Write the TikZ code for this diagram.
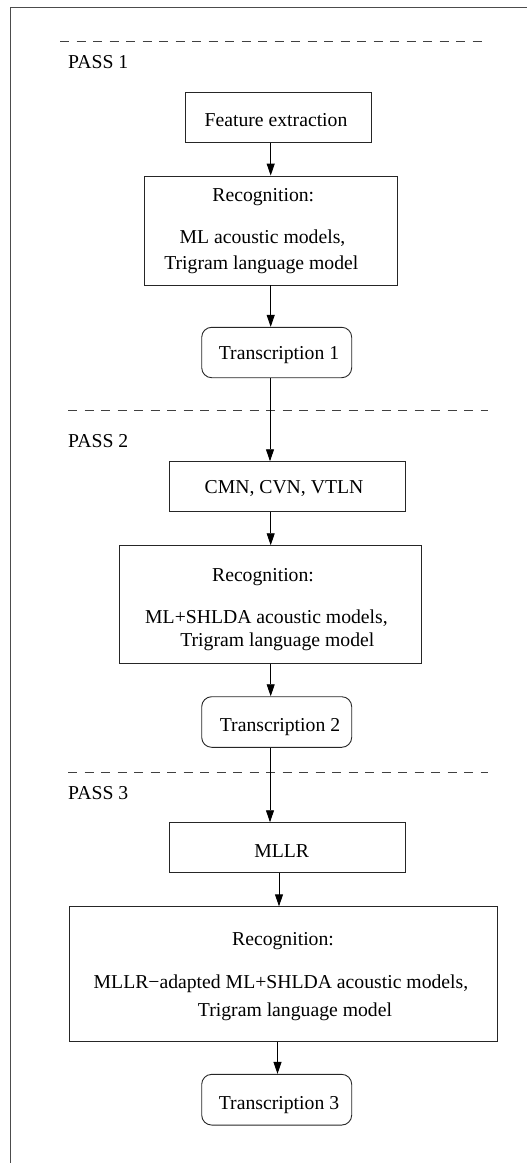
\documentclass[tikz,border=0pt]{standalone}
\usepackage{fontspec}
\setmainfont{Liberation Serif}
\usetikzlibrary{arrows.meta}
\begin{document}
\begin{tikzpicture}[x=1pt,y=-1pt,
  box/.style={draw=black!85, line width=0.9pt, inner sep=0pt},
  rbox/.style={box, rounded corners=10pt},
  txt/.style={inner sep=0pt, anchor=base, font=\fontsize{19.7}{23}\selectfont},
  lbl/.style={txt, anchor=base west},
  flow/.style={-{Triangle[length=12pt,width=8pt]}, line width=0.9pt},
  sep/.style={dash pattern=on 9pt off 7.5pt, draw=black!75, line width=0.9pt}]
\useasboundingbox (0,0) rectangle (527,1163);
% outer frame (left and top edges)
\coordinate (fbl) at (10,1163);
\coordinate (ftl) at (10,7);
\coordinate (ftr) at (527,7);
\draw[black!70, line width=1pt] (fbl) -- (ftl) -- (ftr);

% pass separators
\coordinate (s1a) at (60,41.3);  \coordinate (s1b) at (483,41.3);
\coordinate (s2a) at (68,410.7); \coordinate (s2b) at (488,410.7);
\coordinate (s3a) at (68,772);   \coordinate (s3b) at (488,772);
\draw[sep] (s1a) -- (s1b);
\draw[sep] (s2a) -- (s2b);
\draw[sep] (s3a) -- (s3b);
\node[lbl] (p1) at (68,68.5) {PASS 1};
\node[lbl] (p2) at (68,447.8) {PASS 2};
\node[lbl] (p3) at (68,799.5) {PASS 3};

% boxes
\node[box, minimum width=185.3pt, minimum height=50pt] (fe) at (278.4,117.3) {};
\node[box, minimum width=253pt, minimum height=109pt] (r1) at (270.5,230.5) {};
\node[rbox, minimum width=150pt, minimum height=50.4pt] (t1) at (276.7,352.5) {};
\node[box, minimum width=235.7pt, minimum height=50pt] (cmn) at (287.2,486.7) {};
\node[box, minimum width=302pt, minimum height=117.6pt] (r2) at (270,604.5) {};
\node[rbox, minimum width=150pt, minimum height=50.6pt] (t2) at (276.7,722) {};
\node[box, minimum width=236.4pt, minimum height=50pt] (mllr) at (287.5,847.7) {};
\node[box, minimum width=428.3pt, minimum height=134.3pt] (r3) at (283.2,973.9) {};
\node[rbox, minimum width=150pt, minimum height=50.7pt] (t3) at (276.7,1099.7) {};

% box texts
\node[txt] (fet) at (276,126.5) {Feature extraction};
\node[txt] (r1a) at (263.3,201.5) {Recognition:};
\node[txt] (r1b) at (262.5,243.2) {ML acoustic models,};
\node[txt] (r1c) at (261.3,269.2) {Trigram language model};
\node[txt] (t1t) at (279,359.8) {Transcription 1};
\node[txt] (cmnt) at (284,493.5) {CMN, CVN, VTLN};
\node[txt] (r2a) at (263,581.5) {Recognition:};
\node[lbl] (r2b) at (145,623.2) {ML+SHLDA acoustic models,};
\node[txt] (r2c) at (277.3,646.5) {Trigram language model};
\node[txt] (t2t) at (280,731.5) {Transcription 2};
\node[txt] (mllrt) at (281.7,857.2) {MLLR};
\node[txt] (r3a) at (283,945) {Recognition:};
\node[txt] (r3b) at (281,988.2) {MLLR−adapted ML+SHLDA acoustic models,};
\node[txt] (r3c) at (295,1016.5) {Trigram language model};
\node[txt] (t3t) at (279,1109.2) {Transcription 3};

% connector columns
\coordinate (c1) at (270.7,0);
\coordinate (c2) at (270,0);
\coordinate (c3) at (279,0);
\coordinate (c4) at (277.5,0);
\draw[flow] (fe.south -| c1) -- (r1.north -| c1);
\draw[flow] (r1.south -| c1) -- (t1.north -| c1);
\draw[flow] (t1.south -| c2) -- (cmn.north -| c2);
\draw[flow] (cmn.south -| c1) -- (r2.north -| c1);
\draw[flow] (r2.south -| c1) -- (t2.north -| c1);
\draw[flow] (t2.south -| c2) -- (mllr.north -| c2);
\draw[flow] (mllr.south -| c3) -- (r3.north -| c3);
\draw[flow] (r3.south -| c4) -- (t3.north -| c4);
\end{tikzpicture}
\end{document}
